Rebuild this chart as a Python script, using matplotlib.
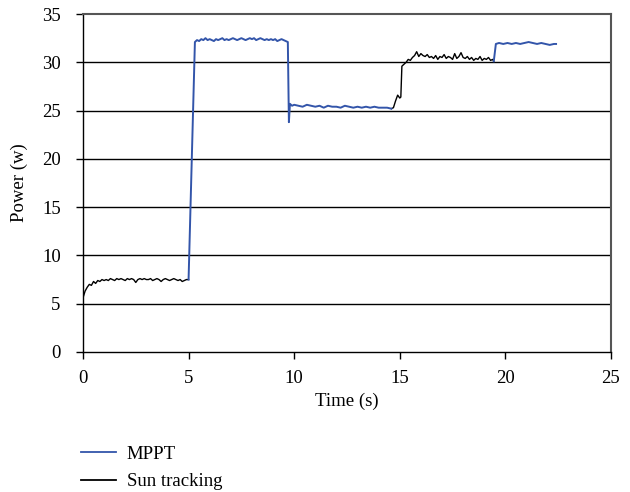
import numpy as np
import matplotlib.pyplot as plt
from matplotlib.lines import Line2D

plt.rcParams['font.family'] = ['Liberation Serif', 'DejaVu Serif']

# sun tracking, start-up phase (0 - 5 s)
t_sun1 = np.round(np.arange(0.0, 5.01, 0.1), 2)
p_sun1 = [5.6, 6.3, 6.7, 7.0, 6.9, 7.3, 7.1, 7.4, 7.3, 7.5,
          7.4, 7.5, 7.4, 7.6, 7.5, 7.4, 7.6, 7.5, 7.6, 7.5,
          7.4, 7.6, 7.5, 7.6, 7.5, 7.2, 7.5, 7.6, 7.5, 7.6,
          7.5, 7.5, 7.6, 7.4, 7.5, 7.6, 7.5, 7.3, 7.5, 7.6,
          7.5, 7.4, 7.5, 7.6, 7.5, 7.4, 7.5, 7.3, 7.4, 7.5, 7.5]

# MPPT, first run (5 - 14.6 s)
t_mppt1 = [5.0, 5.3, 5.4, 5.5, 5.6, 5.7, 5.8, 5.9, 6.0, 6.1, 6.2, 6.3, 6.4,
           6.5, 6.6, 6.7, 6.8, 6.9, 7.0, 7.1, 7.2, 7.3, 7.4, 7.5, 7.6, 7.7,
           7.8, 7.9, 8.0, 8.1, 8.2, 8.3, 8.4, 8.5, 8.6, 8.7, 8.8, 8.9, 9.0,
           9.1, 9.2, 9.3, 9.4, 9.5, 9.6, 9.7, 9.75, 9.8,
           9.9, 10.0, 10.2, 10.4, 10.6, 10.8, 11.0, 11.2, 11.4, 11.6, 11.8,
           12.0, 12.2, 12.4, 12.6, 12.8, 13.0, 13.2, 13.4, 13.6, 13.8, 14.0,
           14.2, 14.4, 14.6]
p_mppt1 = [7.5, 32.1, 32.3, 32.2, 32.4, 32.3, 32.5, 32.3, 32.4, 32.3, 32.2, 32.4, 32.3,
           32.4, 32.5, 32.3, 32.4, 32.3, 32.4, 32.5, 32.4, 32.3, 32.4, 32.5, 32.4, 32.3,
           32.4, 32.5, 32.4, 32.5, 32.3, 32.4, 32.5, 32.4, 32.3, 32.4, 32.3, 32.4, 32.3,
           32.4, 32.2, 32.3, 32.4, 32.3, 32.2, 32.1, 23.8, 25.7,
           25.5, 25.6, 25.5, 25.4, 25.6, 25.5, 25.4, 25.5, 25.3, 25.5, 25.4,
           25.4, 25.3, 25.5, 25.4, 25.3, 25.4, 25.3, 25.4, 25.3, 25.4, 25.3,
           25.3, 25.3, 25.2]

# sun tracking, second run (14.6 - 19.5 s)
t_sun2 = [14.6, 14.7, 14.8, 14.9, 15.0, 15.05, 15.1, 15.2, 15.3, 15.4, 15.5,
          15.6, 15.7, 15.8, 15.9, 16.0, 16.1, 16.2, 16.3, 16.4, 16.5, 16.6,
          16.7, 16.8, 16.9, 17.0, 17.1, 17.2, 17.3, 17.4, 17.5, 17.6, 17.7,
          17.8, 17.9, 18.0, 18.1, 18.2, 18.3, 18.4, 18.5, 18.6, 18.7, 18.8,
          18.9, 19.0, 19.1, 19.2, 19.3, 19.4, 19.45]
p_sun2 = [25.2, 25.3, 26.0, 26.6, 26.3, 26.4, 29.6, 29.8, 30.0, 30.3, 30.2,
          30.5, 30.7, 31.1, 30.6, 30.9, 30.7, 30.6, 30.8, 30.5, 30.6, 30.4,
          30.7, 30.3, 30.6, 30.5, 30.8, 30.4, 30.6, 30.5, 30.3, 30.9, 30.4,
          30.6, 31.0, 30.5, 30.4, 30.6, 30.3, 30.5, 30.2, 30.4, 30.3, 30.6,
          30.2, 30.4, 30.3, 30.5, 30.2, 30.3, 30.1]

# MPPT, second run (19.5 - 22.4 s)
t_mppt2 = [19.45, 19.55, 19.7, 19.9, 20.1, 20.3, 20.5, 20.7, 20.9, 21.1,
           21.3, 21.5, 21.7, 21.9, 22.1, 22.3, 22.4]
p_mppt2 = [30.1, 31.9, 32.0, 31.9, 32.0, 31.9, 32.0, 31.9, 32.0, 32.1,
           32.0, 31.9, 32.0, 31.9, 31.8, 31.9, 31.9]

blue = '#3355aa'

fig = plt.figure(figsize=(6.3, 4.92), dpi=100)
ax = fig.add_axes([0.1317, 0.2846, 0.8381, 0.6869])

for y in range(5, 35, 5):
    ax.axhline(y, color='black', lw=1.0, zorder=1)

ax.plot(t_sun1, p_sun1, color='black', lw=1.0, zorder=3)
ax.plot(t_sun2, p_sun2, color='black', lw=1.0, zorder=3)
ax.plot(t_mppt1, p_mppt1, color=blue, lw=1.4, zorder=4)
ax.plot(t_mppt2, p_mppt2, color=blue, lw=1.4, zorder=4)

ax.set_xlim(0, 25)
ax.set_ylim(0, 35)
ax.set_xticks(range(0, 26, 5))
ax.set_yticks(range(0, 36, 5))
ax.tick_params(labelsize=13.5, direction='out', length=5, width=1)
ax.tick_params(axis='x', pad=8)
ax.tick_params(axis='y', pad=11)
ax.spines['top'].set_color('#555555')
ax.spines['right'].set_color('#555555')
ax.spines['top'].set_linewidth(1.5)
ax.spines['right'].set_linewidth(1.5)
ax.spines['left'].set_linewidth(1.0)
ax.spines['bottom'].set_linewidth(1.0)
ax.set_xlabel('Time (s)', fontsize=13.5, labelpad=4)
ax.set_ylabel('Power (w)', fontsize=13.5, labelpad=10)

handles = [Line2D([], [], color=blue, lw=1.3), Line2D([], [], color='black', lw=1.3)]
fig.legend(handles, ['MPPT', 'Sun tracking'], loc='upper left',
           bbox_to_anchor=(0.128, 0.094), frameon=False, fontsize=13.5,
           handlelength=1.9, handletextpad=0.55, labelspacing=0.55,
           borderaxespad=0, borderpad=0)

fig.savefig('out.png', dpi=100)
